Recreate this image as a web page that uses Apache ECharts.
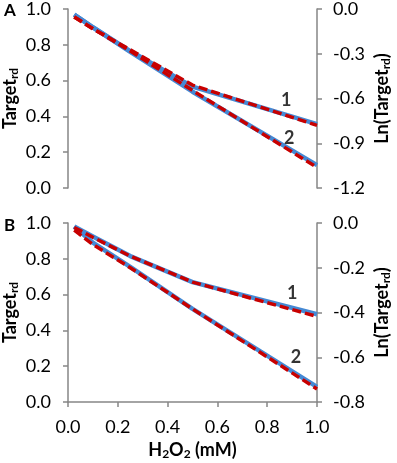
<!doctype html>
<html lang="en">
<head>
	<meta charset="UTF-8">
	<title>Target_rd vs H2O2</title>
	<script src="https://cdn.jsdelivr.net/npm/echarts@6/dist/echarts.min.js"></script>
	<style>
		html, body { margin: 0; padding: 0; background: #fff; }
		#main { width: 397px; height: 463px; }
	</style>
</head>
<body>
<div id="main"></div>
<script type="text/javascript">
	// H2O2 concentrations (mM)
	var xH2O2 = [0.025, 0.1, 0.25, 0.5, 1.0];
	// panel A
	var aBlue1 = [0.968, 0.898, 0.765, 0.566, 0.357];
	var aRed1  = [0.955, 0.890, 0.772, 0.575, 0.350];
	var aBlue2 = [0.968, 0.898, 0.760, 0.538, 0.128];
	var aRed2  = [0.955, 0.890, 0.765, 0.545, 0.115];
	// panel B
	var bBlue1 = [0.980, 0.925, 0.815, 0.670, 0.490];
	var bRed1  = [0.975, 0.920, 0.815, 0.670, 0.478];
	var bBlue2 = [0.980, 0.890, 0.755, 0.520, 0.085];
	var bRed2  = [0.960, 0.880, 0.750, 0.520, 0.073];
	// curve labels: [text, x, y] in data units
	var aCurveLabels = [['1', 0.876, 0.49], ['2', 0.888, 0.28]];
	var bCurveLabels = [['1', 0.90, 0.61], ['2', 0.916, 0.25]];

	var FONT = 'Lato';
	var AXIS = '#868686';
	var BLUE = '#4589d4';
	var RED = '#c80000';

	function pairs(xs, ys) {
		return xs.map(function (x, i) { return [x, ys[i]]; });
	}

	function blue(name, ys, idx) {
		return {
			name: name, type: 'line', xAxisIndex: idx, yAxisIndex: idx * 2,
			data: pairs(xH2O2, ys), showSymbol: false, z: 2,
			lineStyle: { color: BLUE, width: 4.5 }
		};
	}
	function red(name, ys, idx) {
		return {
			name: name, type: 'line', xAxisIndex: idx, yAxisIndex: idx * 2,
			data: pairs(xH2O2, ys), showSymbol: false, z: 3,
			lineStyle: { color: RED, width: 3.5, type: [9, 4] }
		};
	}
	function labels(list, idx) {
		return {
			type: 'scatter', xAxisIndex: idx, yAxisIndex: idx * 2, z: 4,
			symbolSize: 0, silent: true,
			data: list.map(function (l) { return { value: [l[1], l[2]], name: l[0] }; }),
			label: {
				show: true, position: 'inside', formatter: '{b}',
				fontFamily: FONT, fontWeight: 'bold', fontSize: 18, color: '#000'
			}
		};
	}

	var sub = { fontFamily: FONT, fontWeight: 'bold', fontSize: 12, color: '#000', padding: [8, 0, 0, 0] };
	var nameBase = { fontFamily: FONT, fontWeight: 'bold', fontSize: 18, color: '#000', rich: { sub: sub } };
	var labelBase = { fontFamily: FONT, fontSize: 18, color: '#000' };
	function fmt(v) { return Math.abs(v) < 1e-9 ? '0.0' : v.toFixed(1); }

	function leftAxis(grid) {
		return {
			type: 'value', gridIndex: grid, min: 0, max: 1, interval: 0.2, position: 'left',
			name: 'Target{sub|rd}', nameLocation: 'middle', nameGap: 48, nameRotate: 90,
			nameMoveOverlap: false,
			nameTextStyle: nameBase,
			axisLine: { show: true, lineStyle: { color: AXIS, width: 1.5 } },
			axisTick: { show: true, length: 5, lineStyle: { color: AXIS, width: 1.5 } },
			axisLabel: Object.assign({ margin: 17, formatter: fmt }, labelBase),
			splitLine: { show: false }
		};
	}
	function rightAxis(grid, min, step) {
		return {
			type: 'value', gridIndex: grid, min: min, max: 0, interval: step, position: 'right',
			name: 'Ln(Target{sub|rd})', nameLocation: 'middle', nameGap: 55, nameRotate: 90,
			nameMoveOverlap: false,
			nameTextStyle: nameBase,
			axisLine: { show: true, lineStyle: { color: AXIS, width: 1.5 } },
			axisTick: { show: true, length: 5, lineStyle: { color: AXIS, width: 1.5 } },
			axisLabel: Object.assign({ margin: 16, formatter: fmt }, labelBase),
			splitLine: { show: false }
		};
	}

	var myChart = echarts.init(document.getElementById('main'));
	var option = {
		animation: false,
		backgroundColor: '#fff',
		title: [
			{ text: 'A', left: 4, top: 2, padding: 0, textStyle: { fontFamily: FONT, fontWeight: 'bold', fontSize: 17, color: '#000' } },
			{ text: 'B', left: 4, top: 217, padding: 0, textStyle: { fontFamily: FONT, fontWeight: 'bold', fontSize: 17, color: '#000' } }
		],
		grid: [
			{ left: 68, right: 80, top: 9, height: 179, outerBoundsMode: 'none', containLabel: false },
			{ left: 68, right: 80, top: 223, height: 179, outerBoundsMode: 'none', containLabel: false }
		],
		xAxis: [
			{
				type: 'value', gridIndex: 0, min: 0, max: 1, interval: 0.2, show: false,
				splitLine: { show: false }
			},
			{
				type: 'value', gridIndex: 1, min: 0, max: 1, interval: 0.2,
				name: 'H{sub|2}O{sub|2} (mM)', nameLocation: 'middle', nameGap: 38,
				nameMoveOverlap: false,
				nameTextStyle: nameBase,
				axisLine: { show: true, lineStyle: { color: AXIS, width: 1.5 } },
				axisTick: { show: true, length: 5, lineStyle: { color: AXIS, width: 1.5 } },
				axisLabel: Object.assign({ margin: 16, formatter: fmt }, labelBase),
				splitLine: { show: false }
			}
		],
		yAxis: [
			leftAxis(0), rightAxis(0, -1.2, 0.3),
			leftAxis(1), rightAxis(1, -0.8, 0.2)
		],
		series: [
			blue('A1', aBlue1, 0), blue('A2', aBlue2, 0),
			red('A1 fit', aRed1, 0), red('A2 fit', aRed2, 0),
			labels(aCurveLabels, 0),
			blue('B1', bBlue1, 1), blue('B2', bBlue2, 1),
			red('B1 fit', bRed1, 1), red('B2 fit', bRed2, 1),
			labels(bCurveLabels, 1)
		]
	};
	myChart.setOption(option);
</script>
</body>
</html>
